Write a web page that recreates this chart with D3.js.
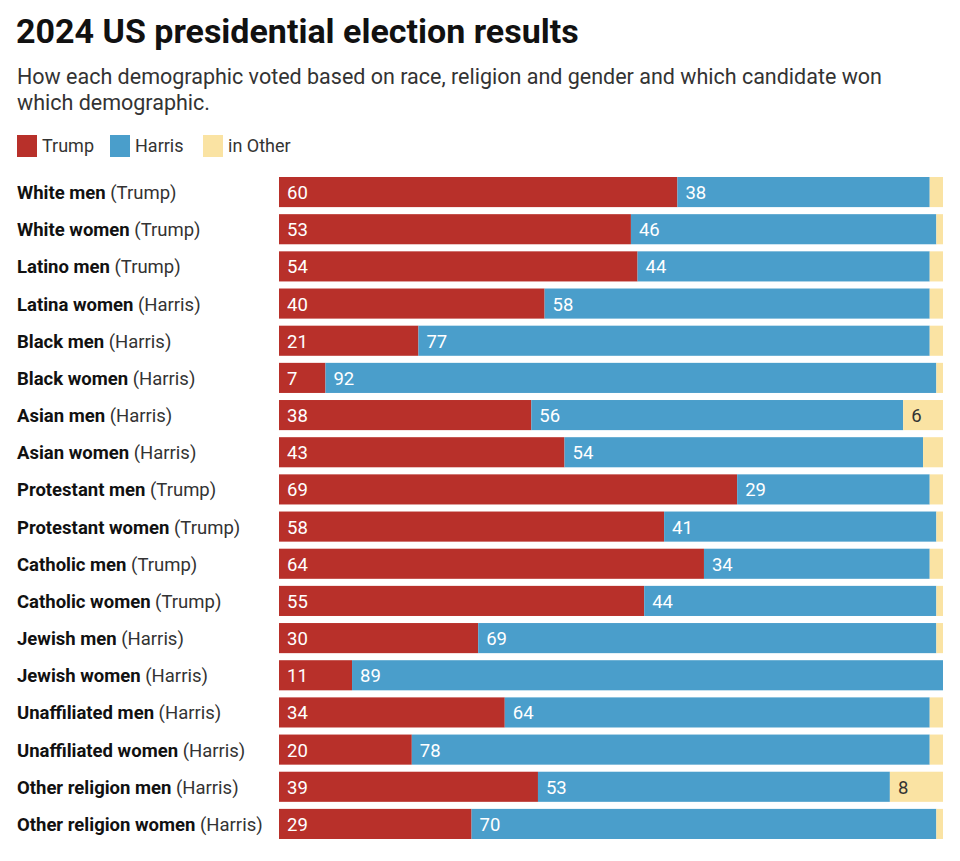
<!DOCTYPE html>
<html><head><meta charset="utf-8">
<script src="https://cdn.jsdelivr.net/npm/d3@7"></script>
<style>body{margin:0;background:#fff;font-family:Roboto,"Noto Sans",sans-serif;}</style>
</head><body><svg id="c" width="960" height="861"></svg>
<script>
const groups = ["White men","White women","Latino men","Latina women","Black men","Black women","Asian men","Asian women","Protestant men","Protestant women","Catholic men","Catholic women","Jewish men","Jewish women","Unaffiliated men","Unaffiliated women","Other religion men","Other religion women"];
const winners = ["Trump","Trump","Trump","Harris","Harris","Harris","Harris","Harris","Trump","Trump","Trump","Trump","Harris","Harris","Harris","Harris","Harris","Harris"];
const trump = [60,53,54,40,21,7,38,43,69,58,64,55,30,11,34,20,39,29];
const harris = [38,46,44,58,77,92,56,54,29,41,34,44,69,89,64,78,53,70];
const other = [2,1,2,2,2,1,6,3,2,1,2,1,1,0,2,2,8,1];
const seriesNames = ["Trump","Harris","in Other"];
const colors = ["#b8302a","#4a9ecb","#fae3a3"];

const svg = d3.select("#c");
svg.append("text").attr("x",16).attr("y",43).attr("font-size",34).attr("font-weight",700).attr("fill","#111").text("2024 US presidential election results");
svg.append("text").attr("x",17).attr("y",84).attr("font-size",21.5).attr("fill","#333").text("How each demographic voted based on race, religion and gender and which candidate won");
svg.append("text").attr("x",17).attr("y",110).attr("font-size",21.5).attr("fill","#333").text("which demographic.");

const legX = [17,110,203];
seriesNames.forEach((n,i)=>{
  svg.append("rect").attr("x",legX[i]).attr("y",135).attr("width",20).attr("height",22).attr("fill",colors[i]);
  svg.append("text").attr("x",legX[i]+25).attr("y",152).attr("font-size",18).attr("fill","#333").text(n);
});

const data = groups.map((g,i)=>({g, w:winners[i], vals:[trump[i],harris[i],other[i]]}));
const x = d3.scaleLinear().domain([0,100]).range([279,943]);
const y = d3.scaleBand().domain(groups).range([177,839]).paddingInner(0.19).paddingOuter(0);

const rows = svg.selectAll("g.row").data(data).join("g").attr("class","row");
rows.each(function(d){
  const g = d3.select(this);
  const yy = y(d.g), h = y.bandwidth();
  let acc = 0;
  d.vals.forEach((v,k)=>{
    if (v>0) g.append("rect").attr("x",x(acc)).attr("y",yy).attr("width",x(acc+v)-x(acc)).attr("height",h).attr("fill",colors[k]);
    if (k<2 || v>=5) g.append("text").attr("x",x(acc)+8).attr("y",yy+h/2+7).attr("font-size",18.5).attr("fill",k===2?"#333":"#fff").text(v);
    acc += v;
  });
  const t = g.append("text").attr("x",17).attr("y",yy+h/2+7).attr("font-size",18.5).attr("fill","#111");
  t.append("tspan").attr("font-weight",700).text(d.g);
  t.append("tspan").attr("fill","#333").text(" ("+d.w+")");
});
</script></body></html>
